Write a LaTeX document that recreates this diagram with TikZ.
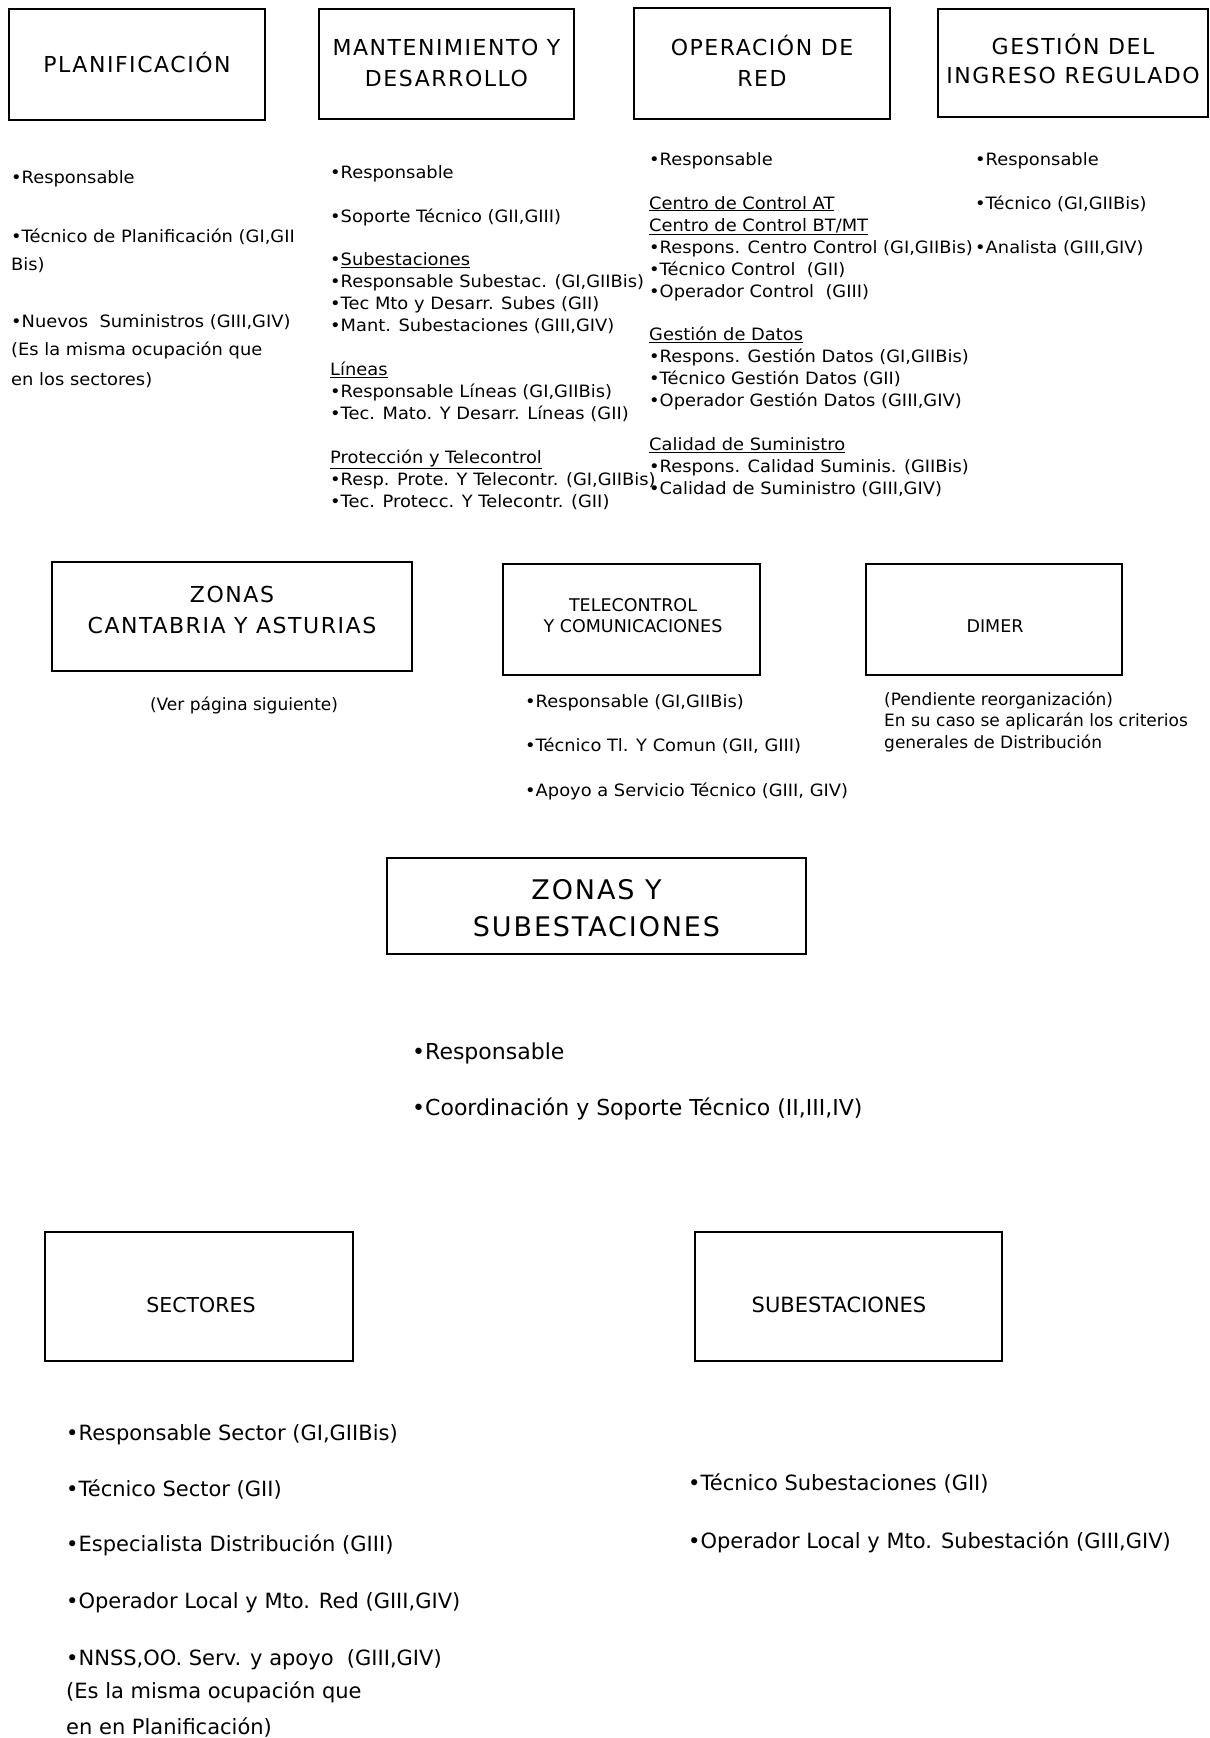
\documentclass[tikz,border=0pt]{standalone}
\usepackage{fontspec}
\setmainfont{DejaVu Sans}
\newfontfamily\ttlfont[LetterSpace=7]{DejaVu Sans}
\newfontfamily\widefont[FakeStretch=1.05]{DejaVu Sans}
\begin{document}
\begin{tikzpicture}[x=1pt,y=-1pt,
  box/.style={draw, line width=2.1pt, inner sep=0pt, align=center},
  ttl/.style={font=\ttlfont\fontsize{22}{31}\selectfont},
  sml/.style={font=\fontsize{17.5}{21}\selectfont},
  txt/.style={anchor=base west, inner sep=0pt, font=\widefont\fontsize{17}{22}\selectfont},
  note/.style={anchor=base west, inner sep=0pt, font=\fontsize{17}{22}\selectfont},
  mid/.style={anchor=base west, inner sep=0pt, font=\fontsize{22}{28}\selectfont},
  low/.style={anchor=base west, inner sep=0pt, font=\fontsize{21}{26}\selectfont}]
\fill[white] (0,0) rectangle (1210,1738);
\useasboundingbox (0,0) rectangle (1210,1738);

% ---- top row of departments
\node[box, minimum width=256pt, minimum height=111pt] (planif) at (137,64.5) {};
\node[ttl] (planift) at (137,62) {PLANIFICACIÓN};
\node[box, minimum width=255pt, minimum height=110pt] (mant) at (446.5,64) {};
\node[ttl, align=center] (mantt) at (446.5,63) {MANTENIMIENTO Y\\DESARROLLO};
\node[box, minimum width=256pt, minimum height=111pt] (oper) at (762,63.5) {};
\node[ttl, align=center] (opert) at (762,61) {OPERACIÓN DE\\RED};
\node[box, minimum width=270pt, minimum height=108pt] (gest) at (1073,63) {};
\node[font=\ttlfont\fontsize{22}{29}\selectfont, align=center] (gestt) at (1073,59) {GESTIÓN DEL\\INGRESO REGULADO};

% Planificación
\node[txt] (pl1) at (11,183) {•Responsable};
\node[txt] (pl2) at (11,242) {•Técnico de Planificación (GI,GII};
\node[txt] (pl3) at (11,270) {Bis)};
\node[txt] (pl4) at (11,327.5) {•Nuevos\ \ Suministros (GIII,GIV)};
\node[txt] (pl5) at (11,355) {(Es la misma ocupación que};
\node[txt] (pl6) at (11,385) {en los sectores)};

% Mantenimiento y desarrollo
\node[txt] (mt1) at (330,178) {•Responsable};
\node[txt] (mt2) at (330,222.5) {•Soporte Técnico (GII,GIII)};
\node[txt] (mt3) at (330,265.5) {•\underline{Subestaciones}};
\node[txt] (mt4) at (330,287.3) {•Responsable Subestac. (GI,GIIBis)};
\node[txt] (mt5) at (330,309.4) {•Tec Mto y Desarr. Subes (GII)};
\node[txt] (mt6) at (330,331.5) {•Mant. Subestaciones (GIII,GIV)};
\node[txt] (mt7) at (330,375.7) {\underline{Líneas}};
\node[txt] (mt8) at (330,397.8) {•Responsable Líneas (GI,GIIBis)};
\node[txt] (mt9) at (330,419.9) {•Tec. Mato. Y Desarr. Líneas (GII)};
\node[txt] (mt10) at (330,463.5) {\underline{Protección y Telecontrol}};
\node[txt] (mt11) at (330,485.9) {•Resp. Prote. Y Telecontr. (GI,GIIBis)};
\node[txt] (mt12) at (330,507.5) {•Tec. Protecc. Y Telecontr. (GII)};

% Operación de red
\node[txt] (op1) at (649,165.5) {•Responsable};
\node[txt] (op2) at (649,209) {\underline{Centro de Control AT}};
\node[txt] (op3) at (649,231) {\underline{Centro de Control BT/MT}};
\node[txt] (op4) at (649,253) {•Respons. Centro Control (GI,GIIBis)};
\node[txt] (op5) at (649,275) {•Técnico Control\ \ (GII)};
\node[txt] (op6) at (649,297) {•Operador Control\ \ (GIII)};
\node[txt] (op7) at (649,340.3) {\underline{Gestión de Datos}};
\node[txt] (op8) at (649,362.4) {•Respons. Gestión Datos (GI,GIIBis)};
\node[txt] (op9) at (649,384.5) {•Técnico Gestión Datos (GII)};
\node[txt] (op10) at (649,406.6) {•Operador Gestión Datos (GIII,GIV)};
\node[txt] (op11) at (649,450.8) {\underline{Calidad de Suministro}};
\node[txt] (op12) at (649,472.9) {•Respons. Calidad Suminis. (GIIBis)};
\node[txt] (op13) at (649,494.5) {•Calidad de Suministro (GIII,GIV)};

% Gestión del ingreso regulado
\node[txt] (gs1) at (975,165) {•Responsable};
\node[txt] (gs2) at (975,209) {•Técnico (GI,GIIBis)};
\node[txt] (gs3) at (975,253) {•Analista (GIII,GIV)};

% ---- second row
\node[box, minimum width=360pt, minimum height=109pt] (zcant) at (232,616.5) {};
\node[ttl, align=center] (zcantt) at (232,609.5) {ZONAS\\CANTABRIA Y ASTURIAS};
\node[box, minimum width=257pt, minimum height=111pt] (telec) at (631.5,619.5) {};
\node[sml, align=center] (telect) at (633,615.5) {TELECONTROL\\Y COMUNICACIONES};
\node[box, minimum width=256pt, minimum height=111pt] (dimer) at (994,619.5) {};
\node[sml] (dimert) at (995,626) {DIMER};

\node[note, anchor=base] (ver) at (244,710) {(Ver página siguiente)};

\node[txt] (tc1) at (525,707) {•Responsable (GI,GIIBis)};
\node[txt] (tc2) at (525,751) {•Técnico Tl. Y Comun (GII, GIII)};
\node[txt] (tc3) at (525,796) {•Apoyo a Servicio Técnico (GIII, GIV)};

\node[note] (dm1) at (884,705) {(Pendiente reorganización)};
\node[note] (dm2) at (884,726) {En su caso se aplicarán los criterios};
\node[note] (dm3) at (884,748) {generales de Distribución};

% ---- zones and substations
\node[box, minimum width=419pt, minimum height=96pt] (zsub) at (596.5,906) {};
\node[font=\ttlfont\fontsize{27}{37}\selectfont, align=center] (zsubt) at (596.5,908) {ZONAS Y\\SUBESTACIONES};
\node[mid] (zs1) at (412,1059.5) {•Responsable};
\node[mid] (zs2) at (412,1115) {•Coordinación y Soporte Técnico (II,III,IV)};

% ---- sectors and substations
\node[box, minimum width=308pt, minimum height=129pt] (sect) at (199,1296.5) {};
\node[font=\fontsize{20.5}{26}\selectfont] (sectt) at (201,1305) {SECTORES};
\node[box, minimum width=307pt, minimum height=129pt] (subest) at (848.5,1296.5) {};
\node[font=\fontsize{21}{26}\selectfont] (subestt) at (839,1305) {SUBESTACIONES};

\node[low] (sc1) at (66,1440) {•Responsable Sector (GI,GIIBis)};
\node[low] (sc2) at (66,1496) {•Técnico Sector (GII)};
\node[low] (sc3) at (66,1551) {•Especialista Distribución (GIII)};
\node[low] (sc4) at (66,1608.5) {•Operador Local y Mto. Red (GIII,GIV)};
\node[low] (sc5) at (66,1665) {•NNSS,OO. Serv. y apoyo\ \ (GIII,GIV)};
\node[low] (sc6) at (66,1698.5) {(Es la misma ocupación que};
\node[low] (sc7) at (66,1734) {en en Planificación)};

\node[low] (sb1) at (688,1490) {•Técnico Subestaciones (GII)};
\node[low] (sb2) at (688,1548) {•Operador Local y Mto. Subestación (GIII,GIV)};
\end{tikzpicture}
\end{document}
